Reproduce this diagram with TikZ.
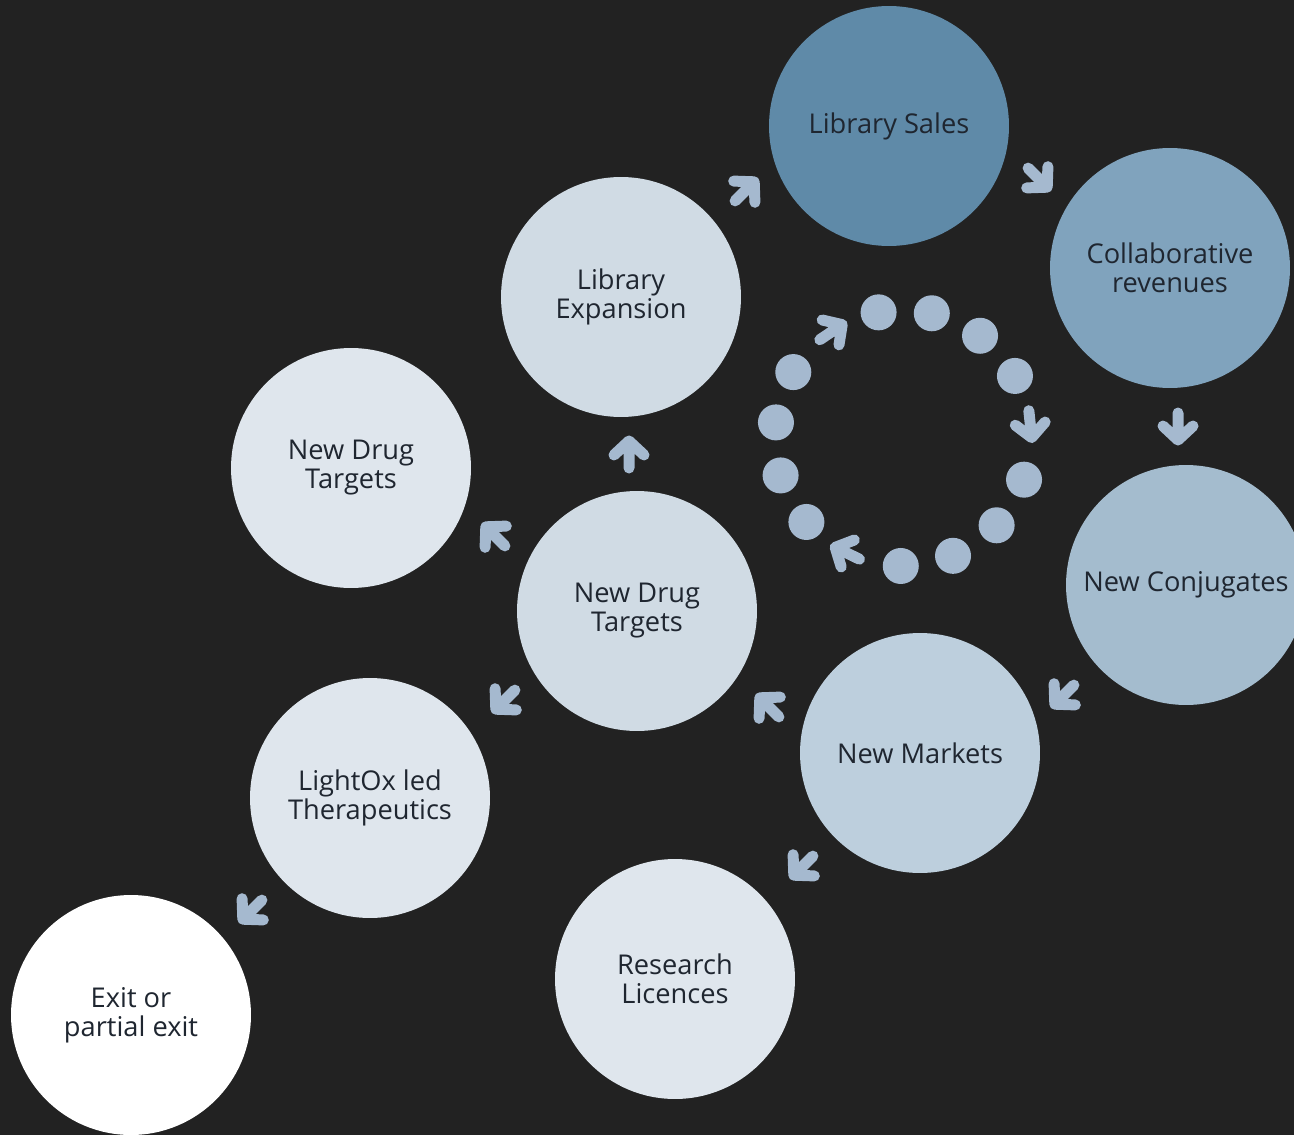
\documentclass[tikz,border=0pt]{standalone}
\usepackage{fontspec}
\setmainfont{Open Sans}
\usetikzlibrary{calc}
\definecolor{bgdark}{HTML}{222222}
\definecolor{salesblue}{HTML}{5F8AA8}
\definecolor{collabblue}{HTML}{80A3BD}
\definecolor{conjblue}{HTML}{A4BCCE}
\definecolor{marketblue}{HTML}{BDCFDD}
\definecolor{hubgrey}{HTML}{D0DBE4}
\definecolor{palegrey}{HTML}{DFE6ED}
\definecolor{arrowblue}{HTML}{A5B9CF}
\definecolor{txtdark}{HTML}{1F2630}
\begin{document}
\begin{tikzpicture}[x=0.02cm,y=0.02cm,
            stage/.style={circle,minimum size=4.8cm,inner sep=0pt,align=center,
              text=txtdark,font=\fontsize{15.5}{16.5}\selectfont},
            flowline/.style={draw=arrowblue,line width=0.22cm,line cap=round,line join=round},
            flow/.pic={\draw[flowline] (-15,-1) -- (0,13) -- (15,-1) (0,13) -- (0,-14);}]
            \fill[bgdark] (0,0) rectangle (1294,-1135);
            \clip (0,0) rectangle (1294,-1135);
            \node[stage,fill=salesblue] (sales) at (889,-126) {Library Sales};
            \node[stage,fill=collabblue] (collab) at (1170,-268) {Collaborative\\revenues};
            \node[stage,fill=conjblue] (conj) at (1186,-585) {New Conjugates};
            \node[stage,fill=marketblue] (markets) at (920,-753) {New Markets};
            \node[stage,fill=hubgrey] (hub) at (637,-611) {New Drug\\Targets};
            \node[stage,fill=hubgrey] (expansion) at (621,-297) {Library\\Expansion};
            \node[stage,fill=palegrey] (targets) at (351,-468) {New Drug\\Targets};
            \node[stage,fill=palegrey] (lightox) at (370,-798) {LightOx led\\Therapeutics};
            \node[stage,fill=palegrey] (licences) at (675,-979) {Research\\Licences};
            \node[stage,fill=white] (exit) at (131,-1015) {Exit or\\partial exit};
            \pic[rotate=-45] at (745,-191) {flow};
            \pic[rotate=-135] at (1038,-178) {flow};
            \pic[rotate=180] at (1178,-427) {flow};
            \pic[rotate=135] at (1064,-695) {flow};
            \pic[rotate=45] at (769,-707) {flow};
            \pic at (629,-454) {flow};
            \pic[rotate=45] at (495,-536) {flow};
            \pic[rotate=135] at (505,-700) {flow};
            \pic[rotate=135] at (803,-866) {flow};
            \pic[rotate=135] at (252,-910) {flow};
            \coordinate (ring) at (903,-438);
            \foreach \a in {101,77,53,29,-19,-43,-67,-91,-139,-163,173,149}
              \fill[arrowblue] ($(ring)+(\a:128)$) circle (18);
            \foreach \a in {6,-116,124}
              \pic[rotate=\a-180] at ($(ring)+(\a:128)$) {flow};
        \end{tikzpicture}
\end{document}
